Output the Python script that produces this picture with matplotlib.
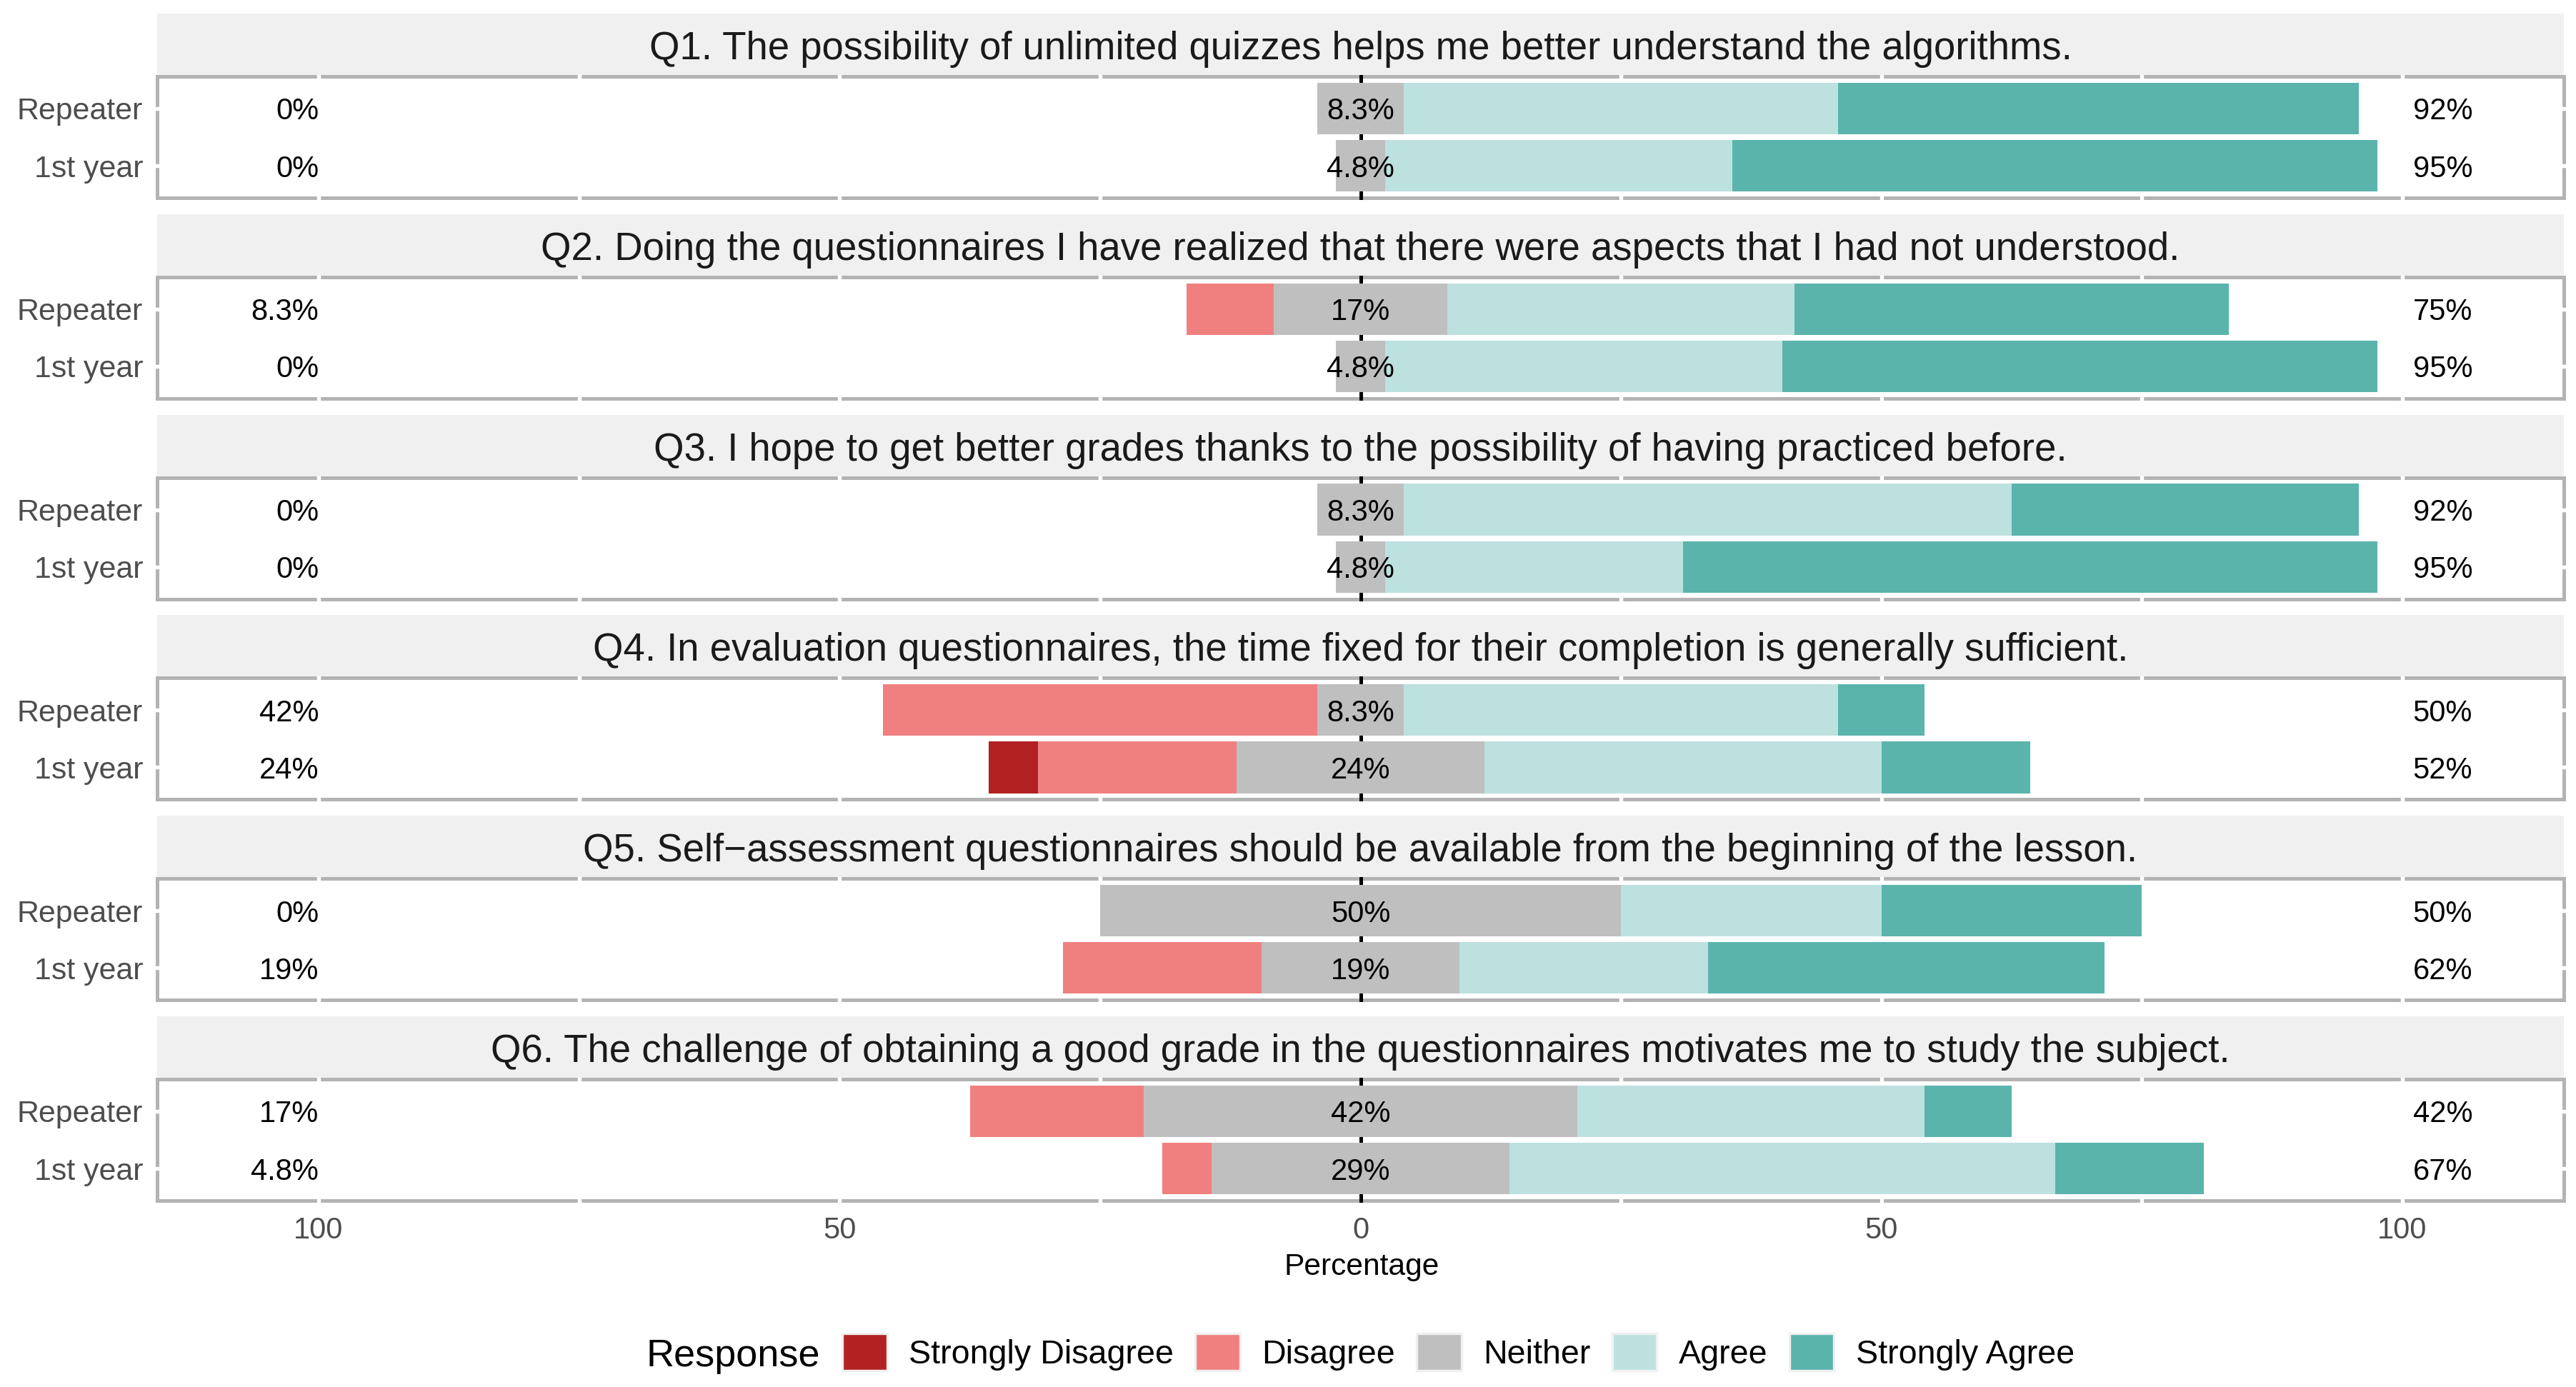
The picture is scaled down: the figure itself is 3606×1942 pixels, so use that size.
import matplotlib.pyplot as plt
from matplotlib.patches import Patch
import numpy as np

plt.rcParams['font.family'] = ['Liberation Sans', 'DejaVu Sans']

# ---- data (percent of respondents) ----
questions = [
    "Q1. The possibility of unlimited quizzes helps me better understand the algorithms.",
    "Q2. Doing the questionnaires I have realized that there were aspects that I had not understood.",
    "Q3. I hope to get better grades thanks to the possibility of having practiced before.",
    "Q4. In evaluation questionnaires, the time fixed for their completion is generally sufficient.",
    "Q5. Self\u2212assessment questionnaires should be available from the beginning of the lesson.",
    "Q6. The challenge of obtaining a good grade in the questionnaires motivates me to study the subject.",
]
groups = ["Repeater", "1st year"]
responses = ["Strongly Disagree", "Disagree", "Neither", "Agree", "Strongly Agree"]
colors = ["#B22222", "#F08080", "#BFBFBF", "#BDE1DE", "#5AB4AC"]

# order of values: SD, D, N, A, SA
repeater = [
    [0, 0, 8.33, 41.67, 50.0],
    [0, 8.33, 16.67, 33.33, 41.67],
    [0, 0, 8.33, 58.33, 33.33],
    [0, 41.67, 8.33, 41.67, 8.33],
    [0, 0, 50.0, 25.0, 25.0],
    [0, 16.67, 41.67, 33.33, 8.33],
]
first_year = [
    [0, 0, 4.76, 33.33, 61.90],
    [0, 0, 4.76, 38.10, 57.14],
    [0, 0, 4.76, 28.57, 66.67],
    [4.76, 19.05, 23.81, 38.10, 14.29],
    [0, 19.05, 19.05, 23.81, 38.10],
    [0, 4.76, 28.57, 52.38, 14.29],
]

W, H, DPI = 3606, 1942, 300
BORDER = "#B3B3B3"
TICK_COL = "#4D4D4D"


def px_box(left, top, width, height):
    return [left / W, 1 - (top + height) / H, width / W, height / H]


def pct(x):
    return f"{x:.2g}%"


fig = plt.figure(figsize=(W / DPI, H / DPI), dpi=DPI)

for i, q in enumerate(questions):
    top = 107 + i * 280.8

    # strip with the question text
    sax = fig.add_axes(px_box(220, top - 88, 3369, 88))
    sax.set_facecolor("#F0F0F0")
    sax.set_xticks([])
    sax.set_yticks([])
    for s in sax.spines.values():
        s.set_visible(False)
    sax.text(0.5, 0.5, q, ha="center", va="center_baseline", fontsize=13.1,
             color="#1A1A1A", transform=sax.transAxes)

    ax = fig.add_axes(px_box(220, top, 3369, 170))
    ax.set_xlim(-115.5, 115.5)
    ax.set_ylim(0.44, 2.56)

    for s in ax.spines.values():
        s.set_color(BORDER)
        s.set_linewidth(1.2)

    # white grid lines only show where they cut the border
    for gx in np.arange(-100, 101, 25):
        if gx != 0:
            ax.axvline(gx, color="white", lw=1.3, zorder=2.6, clip_on=False)
    for gy in (1, 2):
        ax.axhline(gy, color="white", lw=1.3, zorder=2.6, clip_on=False)
    ax.axvline(0, color="black", lw=1.2, zorder=2.7, clip_on=False)

    for y, vals in ((2, repeater[i]), (1, first_year[i])):
        sd, d, n, a, sa = vals
        starts = [-n / 2 - d - sd, -n / 2 - d, -n / 2, n / 2, n / 2 + a]
        ax.barh([y] * 5, vals, left=starts, height=0.9, color=colors, zorder=3)
        ax.text(-100, y, pct(sd + d), ha="right", va="center_baseline", fontsize=10, zorder=4)
        ax.text(0, y, pct(n), ha="center", va="center_baseline", fontsize=10, zorder=4)
        ax.text(101, y, pct(a + sa), ha="left", va="center_baseline", fontsize=10, zorder=4)

    ax.set_yticks([2, 1])
    ax.set_yticklabels(groups)
    ax.tick_params(axis="y", length=0, pad=4.8, labelsize=10.3, labelcolor=TICK_COL)
    ax.set_xticks([-100, -50, 0, 50, 100])
    if i == len(questions) - 1:
        ax.set_xticklabels(["100", "50", "0", "50", "100"])
        ax.tick_params(axis="x", length=0, pad=5.3, labelsize=10, labelcolor=TICK_COL)
    else:
        ax.tick_params(axis="x", length=0, labelbottom=False)

fig.text(1906 / W, 1 - 1785 / H, "Percentage", ha="center", va="baseline", fontsize=10.2)

handles = [Patch(facecolor=c, edgecolor="#F0F0F0", linewidth=0.8) for c in colors]
fig.legend(handles, responses, loc="center left", bbox_to_anchor=(1179 / W, 1 - 1893 / H),
           ncol=5, frameon=False, fontsize=11.2, handlelength=1.34, handleheight=1.34,
           handletextpad=0.66, columnspacing=0.64, borderpad=0, borderaxespad=0)
fig.text(1148 / W, 1 - 1893 / H, "Response", ha="right", va="center_baseline", fontsize=13)

fig.savefig("out.png", dpi=DPI)
